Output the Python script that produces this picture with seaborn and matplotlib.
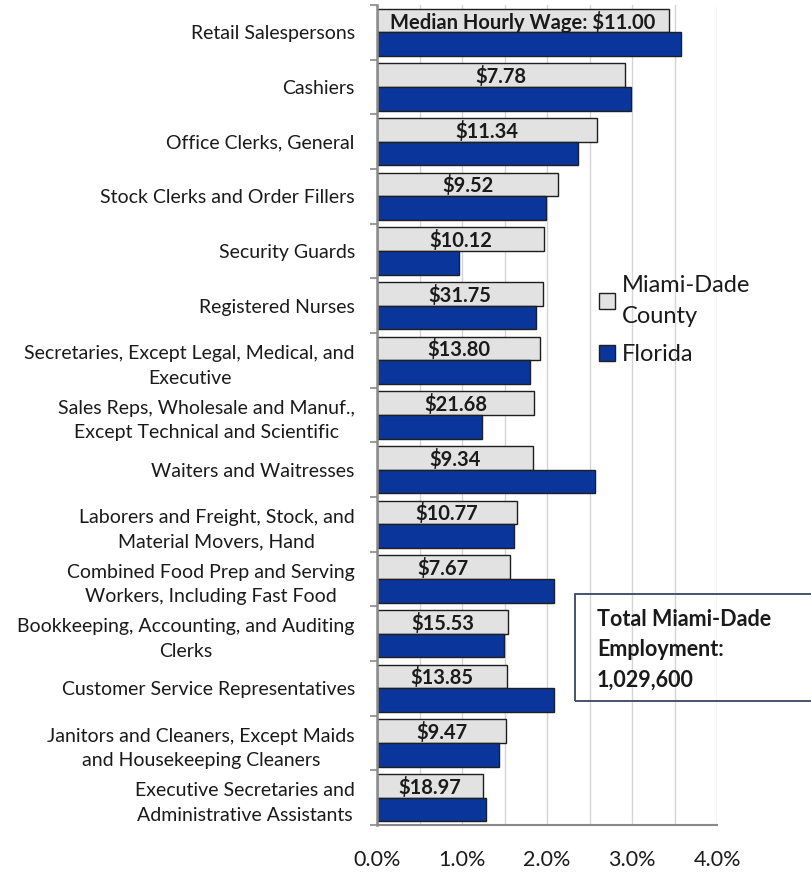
import matplotlib
matplotlib.use("Agg")
import matplotlib.pyplot as plt
import seaborn as sns
import pandas as pd
from matplotlib.patches import Rectangle
from matplotlib.ticker import MultipleLocator, FixedLocator

categories = [
    "Retail Salespersons",
    "Cashiers",
    "Office Clerks, General",
    "Stock Clerks and Order Fillers",
    "Security Guards",
    "Registered Nurses",
    "Secretaries, Except Legal, Medical, and\nExecutive",
    "Sales Reps, Wholesale and Manuf.,\nExcept Technical and Scientific",
    "Waiters and Waitresses",
    "Laborers and Freight, Stock, and\nMaterial Movers, Hand",
    "Combined Food Prep and Serving\nWorkers, Including Fast Food",
    "Bookkeeping, Accounting, and Auditing\nClerks",
    "Customer Service Representatives",
    "Janitors and Cleaners, Except Maids\nand Housekeeping Cleaners",
    "Executive Secretaries and\nAdministrative Assistants",
]
miami = [3.43, 2.92, 2.59, 2.13, 1.97, 1.95, 1.92, 1.85, 1.83, 1.65, 1.56, 1.54, 1.53, 1.52, 1.25]
florida = [3.58, 2.99, 2.37, 1.99, 0.97, 1.87, 1.80, 1.23, 2.56, 1.61, 2.08, 1.49, 2.08, 1.44, 1.28]
wages = ["Median Hourly Wage: $11.00", "$7.78", "$11.34", "$9.52", "$10.12", "$31.75",
         "$13.80", "$21.68", "$9.34", "$10.77", "$7.67", "$15.53", "$13.85", "$9.47", "$18.97"]
series = ["Miami-Dade County", "Florida"]
legend_labels = ["Miami-Dade\nCounty", "Florida"]
x_ticks = [0, 1, 2, 3, 4]
total_text = "Total Miami-Dade\nEmployment:\n1,029,600"

df = pd.DataFrame({
    "Occupation": categories * 2,
    "Share": miami + florida,
    "Area": [series[0]] * len(categories) + [series[1]] * len(categories),
})

sns.set_theme(style="white")
plt.rcParams["font.family"] = ["Lato", "DejaVu Sans"]

fig = plt.figure(figsize=(8.11, 8.80), dpi=100)
ax = fig.add_axes([377 / 811, 1 - 825 / 880, 340 / 811, 820 / 880])

sns.barplot(data=df, y="Occupation", x="Share", hue="Area", orient="h",
            palette={series[0]: "#e2e2e2", series[1]: "#0a369c"}, saturation=1,
            width=0.86, edgecolor="#1e1e1e", linewidth=1.0, ax=ax)

ax.set_ylim(len(categories) - 0.5, -0.5)
ax.set_xlim(0, 4)
ax.set_xlabel("")
ax.set_ylabel("")

for i, (v, w) in enumerate(zip(miami, wages)):
    ax.text(v / 2, i - 0.19, w, ha="center", va="center",
            fontsize=14.5, fontweight="bold", color="#1a1a1a")

# axis styling
ax.xaxis.set_major_locator(FixedLocator(x_ticks))
ax.xaxis.set_minor_locator(MultipleLocator(0.5))
ax.set_xticklabels([f"{t:.1f}%" for t in x_ticks])
ax.xaxis.grid(True, which="both", color="#d4d4d4", lw=1)
ax.set_axisbelow(True)
ax.tick_params(axis="x", which="major", length=5, width=1.2, color="#8a8a8a",
               direction="out", pad=13, labelsize=15.5, labelcolor="#1a1a1a")
ax.tick_params(axis="x", which="minor", length=0)
ax.yaxis.set_minor_locator(FixedLocator([i - 0.5 for i in range(len(categories) + 1)]))
ax.tick_params(axis="y", which="major", length=0, pad=16, labelsize=14, labelcolor="#1a1a1a")
ax.tick_params(axis="y", which="minor", length=5, width=1.2, color="#8a8a8a", direction="out", left=True)
for lab in ax.get_yticklabels():
    lab.set_multialignment("center")
    lab.set_linespacing(1.55)

for s in ["top", "right"]:
    ax.spines[s].set_visible(False)
ax.spines["left"].set_color("#8a8a8a")
ax.spines["left"].set_linewidth(1.8)
ax.spines["bottom"].set_color("#8a8a8a")
ax.spines["bottom"].set_linewidth(1.5)

handles, _ = ax.get_legend_handles_labels()
ax.get_legend().remove()
leg = fig.legend(handles, legend_labels, loc="upper left",
                 bbox_to_anchor=(578 / 811, 1 - 254 / 880), frameon=False,
                 fontsize=17, handlelength=0.65, handleheight=0.65,
                 handletextpad=0.3, labelspacing=0.75, labelcolor="#1a1a1a")
for t in leg.get_texts():
    t.set_linespacing(1.55)

fig.add_artist(Rectangle((575 / 811, 1 - 701 / 880), 245 / 811, 107 / 880,
                         transform=fig.transFigure, fill=False,
                         edgecolor="#44546a", lw=1.4))
fig.text(597 / 811, 1 - 609 / 880, total_text, fontsize=15.5, fontweight="bold",
         va="top", ha="left", linespacing=1.55, color="#1a1a1a")

fig.savefig("out.png", dpi=100)
